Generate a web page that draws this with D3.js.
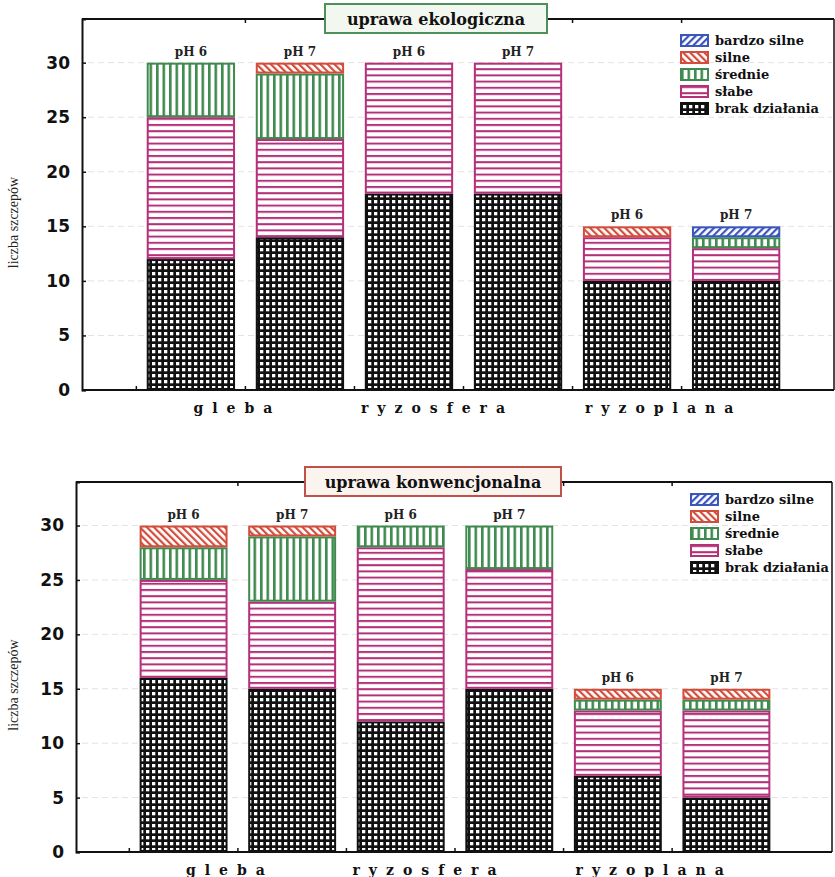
<!DOCTYPE html>
<html>
<head>
<meta charset="utf-8">
<script src="https://cdn.jsdelivr.net/npm/d3@7"></script>
<style>
  body { margin: 0; background: #fff; }
  svg { display: block; }
</style>
</head>
<body>
<div id="app"></div>
<script>
const categories = ['gleba', 'ryzosfera', 'ryzoplana'];
const phLabels = ['pH 6', 'pH 7', 'pH 6', 'pH 7', 'pH 6', 'pH 7'];
const levels = ['brak działania', 'słabe', 'średnie', 'silne', 'bardzo silne'];
const yTicks = [0, 5, 10, 15, 20, 25, 30];

// uprawa ekologiczna
const ecoBrak    = [12, 14, 18, 18, 10, 10];
const ecoSlabe   = [13,  9, 12, 12,  4,  3];
const ecoSrednie = [ 5,  6,  0,  0,  0,  1];
const ecoSilne   = [ 0,  1,  0,  0,  1,  0];
const ecoBardzo  = [ 0,  0,  0,  0,  0,  1];

// uprawa konwencjonalna
const convBrak    = [16, 15, 12, 15, 7, 5];
const convSlabe   = [ 9,  8, 16, 11, 6, 8];
const convSrednie = [ 3,  6,  2,  4, 1, 1];
const convSilne   = [ 2,  1,  0,  0, 1, 1];
const convBardzo  = [ 0,  0,  0,  0, 0, 0];

const width = 835;
const height = 877;
const serif = 'DejaVu Serif, serif';

const colors = {
  'brak działania': '#111',
  'słabe': '#b5307a',
  'średnie': '#3f8a4e',
  'silne': '#d24d3c',
  'bardzo silne': '#3b55bd'
};
const patternId = {
  'brak działania': 'p-brak',
  'słabe': 'p-slabe',
  'średnie': 'p-srednie',
  'silne': 'p-silne',
  'bardzo silne': 'p-bardzo'
};

const svg = d3.select('#app')
  .append('svg')
  .attr('width', width)
  .attr('height', height);

const defs = svg.append('defs');

// black grid with white holes
const pb = defs.append('pattern').attr('id', 'p-brak')
  .attr('patternUnits', 'userSpaceOnUse').attr('width', 6).attr('height', 6);
pb.append('rect').attr('width', 6).attr('height', 6).attr('fill', '#111');
pb.append('rect').attr('x', 2).attr('y', 2).attr('width', 3.3).attr('height', 3.3).attr('fill', '#fff');

// horizontal lines
const ps = defs.append('pattern').attr('id', 'p-slabe')
  .attr('patternUnits', 'userSpaceOnUse').attr('width', 6).attr('height', 6.2);
ps.append('rect').attr('width', 6).attr('height', 6.2).attr('fill', '#fff');
ps.append('rect').attr('y', 0).attr('width', 6).attr('height', 2).attr('fill', colors['słabe']);

// vertical lines
const pm = defs.append('pattern').attr('id', 'p-srednie')
  .attr('patternUnits', 'userSpaceOnUse').attr('width', 6.5).attr('height', 6);
pm.append('rect').attr('width', 6.5).attr('height', 6).attr('fill', '#fff');
pm.append('rect').attr('x', 0).attr('width', 2.6).attr('height', 6).attr('fill', colors['średnie']);

// diagonal "\" lines
const pr = defs.append('pattern').attr('id', 'p-silne')
  .attr('patternUnits', 'userSpaceOnUse').attr('width', 5).attr('height', 5)
  .attr('patternTransform', 'rotate(-45)');
pr.append('rect').attr('width', 5).attr('height', 5).attr('fill', '#fff');
pr.append('rect').attr('width', 2.2).attr('height', 5).attr('fill', colors['silne']);

// diagonal "/" lines
const pbl = defs.append('pattern').attr('id', 'p-bardzo')
  .attr('patternUnits', 'userSpaceOnUse').attr('width', 5).attr('height', 5)
  .attr('patternTransform', 'rotate(45)');
pbl.append('rect').attr('width', 5).attr('height', 5).attr('fill', '#fff');
pbl.append('rect').attr('width', 2.2).attr('height', 5).attr('fill', colors['bardzo silne']);

function buildRows(brak, slabe, srednie, silne, bardzo) {
  return phLabels.map((ph, i) => ({
    key: i,
    ph: ph,
    'brak działania': brak[i],
    'słabe': slabe[i],
    'średnie': srednie[i],
    'silne': silne[i],
    'bardzo silne': bardzo[i]
  }));
}

// nudges for the spaced-out group labels
const labelNudge = [-8, -26, -18];

function drawChart(opts) {
  const { rows, left, top, right, bottom, barX0, barX1, title, titleColor, titleFill, titleBox, legendX, legendY } = opts;

  const g = svg.append('g');

  const y = d3.scaleLinear().domain([0, 34]).range([bottom, top]);
  const x = d3.scaleBand()
    .domain(rows.map(d => d.key))
    .range([barX0, barX1])
    .paddingInner(0.19)
    .paddingOuter(0.19);

  // faint gridlines
  g.selectAll('.grid')
    .data(yTicks.slice(1))
    .enter()
    .append('line')
    .attr('x1', left + 6).attr('x2', right - 2)
    .attr('y1', d => y(d)).attr('y2', d => y(d))
    .attr('stroke', '#e2e2e2')
    .attr('stroke-width', 1)
    .attr('stroke-dasharray', '6,4');

  const stack = d3.stack().keys(levels);
  const series = stack(rows);

  const layer = g.selectAll('.layer')
    .data(series)
    .enter()
    .append('g')
    .attr('class', 'layer');

  layer.selectAll('rect')
    .data(s => s.map(d => ({ d: d, key: s.key })))
    .enter()
    .filter(o => o.d[1] - o.d[0] > 0)
    .append('rect')
    .attr('x', o => x(o.d.data.key) + 1)
    .attr('width', x.bandwidth() - 2)
    .attr('y', o => y(o.d[1]) + 1)
    .attr('height', o => y(o.d[0]) - y(o.d[1]) - 2)
    .attr('fill', o => `url(#${patternId[o.key]})`)
    .attr('stroke', o => colors[o.key])
    .attr('stroke-width', 2);

  // pH labels
  g.selectAll('.ph')
    .data(rows)
    .enter()
    .append('text')
    .attr('x', d => x(d.key) + x.bandwidth() / 2)
    .attr('y', d => y(d3.sum(levels, k => d[k])) - 7)
    .attr('text-anchor', 'middle')
    .attr('font-family', serif)
    .attr('font-weight', 'bold')
    .attr('font-size', 12)
    .attr('fill', '#222')
    .text(d => d.ph);

  // frame
  g.append('line').attr('x1', left).attr('x2', right).attr('y1', top).attr('y2', top)
    .attr('stroke', '#111').attr('stroke-width', 2);
  g.append('line').attr('x1', right).attr('x2', right).attr('y1', top).attr('y2', bottom)
    .attr('stroke', '#111').attr('stroke-width', 1.5);
  g.append('line').attr('x1', left).attr('x2', right).attr('y1', bottom).attr('y2', bottom)
    .attr('stroke', '#111').attr('stroke-width', 2);

  // y axis
  const yAxis = d3.axisLeft(y).tickValues(yTicks).tickSize(-4).tickPadding(12)
    .tickFormat(d3.format('d'));
  const ya = g.append('g').attr('transform', `translate(${left},0)`).call(yAxis);
  ya.select('.domain').attr('stroke', '#111').attr('stroke-width', 2);
  ya.selectAll('.tick line').attr('stroke', '#111').attr('stroke-width', 1.5);
  ya.selectAll('.tick text')
    .attr('font-family', 'DejaVu Sans, sans-serif')
    .attr('font-weight', 'bold')
    .attr('font-size', 17)
    .attr('fill', '#111');

  // small ticks between bars on bottom and top edges
  const between = d3.range(rows.length).map(i => x(i) - x.step() * x.paddingInner() / 2);
  g.selectAll('.btick')
    .data(between)
    .enter()
    .append('line')
    .attr('x1', d => d).attr('x2', d => d)
    .attr('y1', bottom).attr('y2', bottom - 4)
    .attr('stroke', '#111').attr('stroke-width', 1.5);
  g.selectAll('.ttick')
    .data(between.slice(1))
    .enter()
    .append('line')
    .attr('x1', d => d).attr('x2', d => d)
    .attr('y1', top).attr('y2', top + 4)
    .attr('stroke', '#111').attr('stroke-width', 1.5);

  // y title
  g.append('text')
    .attr('transform', `translate(18,${(top + bottom) / 2 + 18}) rotate(-90)`)
    .attr('text-anchor', 'middle')
    .attr('font-family', 'Liberation Serif, serif')
    .attr('font-size', 14)
    .attr('fill', '#222')
    .text('liczba szczepów');

  // group labels
  g.selectAll('.cat')
    .data(categories)
    .enter()
    .append('text')
    .attr('x', (d, i) => (x(i * 2) + x(i * 2 + 1) + x.bandwidth()) / 2 + labelNudge[i])
    .attr('y', bottom + 23)
    .attr('text-anchor', 'middle')
    .attr('font-family', serif)
    .attr('font-weight', 'bold')
    .attr('font-size', 14)
    .attr('letter-spacing', 9)
    .attr('fill', '#111')
    .text(d => d);

  // title box
  g.append('rect')
    .attr('x', titleBox[0]).attr('y', titleBox[1])
    .attr('width', titleBox[2]).attr('height', titleBox[3])
    .attr('fill', titleFill)
    .attr('stroke', titleColor)
    .attr('stroke-width', 2);
  g.append('text')
    .attr('x', titleBox[0] + titleBox[2] / 2)
    .attr('y', titleBox[1] + titleBox[3] / 2 + 6)
    .attr('text-anchor', 'middle')
    .attr('font-family', serif)
    .attr('font-weight', 'bold')
    .attr('font-size', 16)
    .attr('fill', '#111')
    .text(title);

  // legend
  const legendOrder = levels.slice().reverse();
  const lg = g.append('g').attr('transform', `translate(${legendX},${legendY})`);
  const item = lg.selectAll('.item')
    .data(legendOrder)
    .enter()
    .append('g')
    .attr('transform', (d, i) => `translate(0,${i * 17})`);
  item.append('rect')
    .attr('width', 27).attr('height', 11)
    .attr('fill', d => `url(#${patternId[d]})`)
    .attr('stroke', d => colors[d])
    .attr('stroke-width', 2);
  item.append('text')
    .attr('x', 34).attr('y', 10)
    .attr('font-family', serif)
    .attr('font-weight', 'bold')
    .attr('font-size', 13)
    .attr('fill', '#111')
    .text(d => d);
}

drawChart({
  rows: buildRows(ecoBrak, ecoSlabe, ecoSrednie, ecoSilne, ecoBardzo),
  left: 82, top: 19, right: 834, bottom: 390,
  barX0: 126, barX1: 801,
  title: 'uprawa ekologiczna',
  titleColor: '#4f8f5a', titleFill: '#f2f7f0',
  titleBox: [325, 4, 222, 29],
  legendX: 681, legendY: 35
});

drawChart({
  rows: buildRows(convBrak, convSlabe, convSrednie, convSilne, convBardzo),
  left: 76, top: 482, right: 832, bottom: 852,
  barX0: 119, barX1: 791,
  title: 'uprawa konwencjonalna',
  titleColor: '#c0504a', titleFill: '#fbf3ee',
  titleBox: [305, 467, 256, 29],
  legendX: 691, legendY: 494
});
</script>
</body>
</html>
